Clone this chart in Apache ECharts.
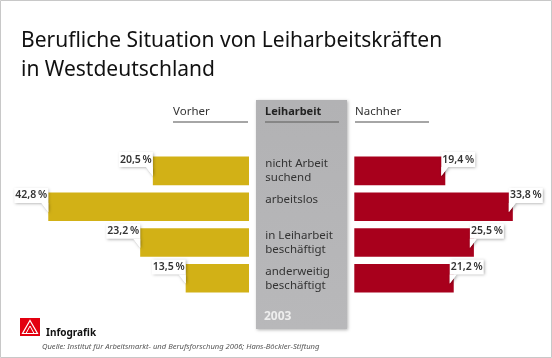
<!DOCTYPE html>
<html><head><meta charset="utf-8">
<script src="https://cdn.jsdelivr.net/npm/echarts@6/dist/echarts.min.js"></script>
<style>html,body{margin:0;padding:0;background:#fff}#c{width:552px;height:358px}</style>
</head><body><div id="c"></div>
<script>
const categories = ["nicht Arbeit\nsuchend", "arbeitslos", "in Leiharbeit\nbeschäftigt", "anderweitig\nbeschäftigt"];
const vorher = [20.5, 42.8, 23.2, 13.5];
const nachher = [19.4, 33.8, 25.5, 21.2];
const yearLabel = "2003";

const FONT = "'Noto Sans', sans-serif";
const fmt = v => v.toFixed(1).replace('.', ',') + '\u2009%';

function calloutItem(side) {
  return function (params, api) {
    const v = api.value(0), idx = api.value(1);
    const p = api.coord([v, idx]);
    const band = api.size([0, 1])[1];
    const top = p[1] - band * 0.4;
    const w = 34, h = 15;
    const bx = side === 'left' ? p[0] - w : p[0] - 4;
    const by = top - 4.5;
    const tail = side === 'left'
      ? [[p[0] - 7, by + h], [p[0], by + h], [p[0], by + h + 9]]
      : [[bx, by + h], [bx + 7, by + h], [bx, by + h + 9]];
    return {
      type: 'group',
      children: [
        { type: 'polygon', shape: { points: tail }, style: { fill: '#fff', shadowBlur: 3, shadowColor: 'rgba(0,0,0,0.35)', shadowOffsetX: 1, shadowOffsetY: 1 } },
        { type: 'rect', shape: { x: bx, y: by, width: w, height: h }, style: { fill: '#fff', shadowBlur: 3, shadowColor: 'rgba(0,0,0,0.35)', shadowOffsetX: 1, shadowOffsetY: 1 } },
        { type: 'polygon', shape: { points: tail }, style: { fill: '#fff' } },
        { type: 'text', x: bx + w / 2, y: by + h / 2, style: { text: fmt(v), fill: '#333', font: "600 10.5px " + FONT, align: 'center', verticalAlign: 'middle' } }
      ]
    };
  };
}

const chart = echarts.init(document.getElementById('c'), null, { renderer: 'canvas' });
chart.setOption({
  animation: false,
  backgroundColor: '#fff',
  title: {
    text: 'Berufliche Situation von Leiharbeitskräften\nin Westdeutschland',
    left: 16, top: 22,
    textStyle: { fontFamily: FONT, fontSize: 21, fontWeight: 'normal', color: '#111', lineHeight: 29 }
  },
  grid: [
    { left: 14.5, width: 234.5, top: 153, height: 143.2 },
    { left: 354.3, width: 187.6, top: 153, height: 143.2 }
  ],
  xAxis: [
    { gridIndex: 0, type: 'value', min: 0, max: 50, inverse: true, show: false },
    { gridIndex: 1, type: 'value', min: 0, max: 40, show: false }
  ],
  yAxis: [
    { gridIndex: 0, type: 'category', data: categories, inverse: true, show: false },
    { gridIndex: 1, type: 'category', data: categories, inverse: true,
      axisLine: { show: false }, axisTick: { show: false }, splitLine: { show: false },
      axisLabel: { align: 'left', margin: 89, fontFamily: FONT, fontSize: 11.5, color: '#333', lineHeight: 14,
        formatter: s => s.indexOf('\n') < 0 ? s + '\n ' : s } }
  ],
  graphic: [
    { type: 'rect', shape: { x: 0.5, y: 0.5, width: 551, height: 357 }, style: { fill: 'none', stroke: '#c8c8c8', lineWidth: 1 }, z: 0 },
    { type: 'rect', shape: { x: 256, y: 100, width: 91, height: 229 },
      style: { fill: new echarts.graphic.LinearGradient(0, 0, 0, 1, [{ offset: 0, color: '#b2b2b4' }, { offset: 1, color: '#b8b8ba' }]),
        shadowBlur: 3, shadowColor: 'rgba(0,0,0,0.3)', shadowOffsetX: 1, shadowOffsetY: 1 }, z: 0 },
    { type: 'text', x: 173, y: 112, style: { text: 'Vorher', font: "11.5px " + FONT, fill: '#333', verticalAlign: 'middle' }, z: 1 },
    { type: 'line', shape: { x1: 173, y1: 122, x2: 248, y2: 122 }, style: { stroke: '#888', lineWidth: 1.5 }, z: 1 },
    { type: 'text', x: 265, y: 112, style: { text: 'Leiharbeit', font: "bold 11px " + FONT, fill: '#222', verticalAlign: 'middle' }, z: 1 },
    { type: 'line', shape: { x1: 265, y1: 122, x2: 339, y2: 122 }, style: { stroke: '#777', lineWidth: 1.5 }, z: 1 },
    { type: 'text', x: 355, y: 112, style: { text: 'Nachher', font: "11.5px " + FONT, fill: '#333', verticalAlign: 'middle' }, z: 1 },
    { type: 'line', shape: { x1: 355, y1: 122, x2: 429, y2: 122 }, style: { stroke: '#888', lineWidth: 1.5 }, z: 1 },
    { type: 'text', x: 264, y: 317, style: { text: yearLabel, font: "bold 12px " + FONT, fill: '#eeeeee', verticalAlign: 'middle' }, z: 1 },
    { type: 'rect', shape: { x: 20, y: 318, width: 20, height: 18 }, style: { fill: '#e3000f' }, z: 1 },
    { type: 'polygon', shape: { points: [[30, 320.5], [37.5, 333.5], [22.5, 333.5]] }, style: { fill: 'none', stroke: '#fff', lineWidth: 1.2 }, z: 2 },
    { type: 'polyline', shape: { points: [[26, 333.5], [30, 326], [34, 333.5]] }, style: { fill: 'none', stroke: '#fff', lineWidth: 1 }, z: 2 },
    { type: 'text', x: 46, y: 333, style: { text: 'Infografik', font: "bold 10px " + FONT, fill: '#111', verticalAlign: 'middle' }, z: 1 },
    { type: 'text', x: 42, y: 347, style: { text: 'Quelle: Institut für Arbeitsmarkt- und Berufsforschung 2006; Hans-Böckler-Stiftung', font: "italic 7.6px " + FONT, fill: '#555', verticalAlign: 'middle' }, z: 1 }
  ],
  series: [
    { type: 'bar', xAxisIndex: 0, yAxisIndex: 0, data: vorher, barWidth: '80%', itemStyle: { color: '#d2b116' }, z: 3 },
    { type: 'bar', xAxisIndex: 1, yAxisIndex: 1, data: nachher, barWidth: '80%', itemStyle: { color: '#a8001c' }, z: 3 },
    { type: 'custom', xAxisIndex: 0, yAxisIndex: 0, data: vorher.map((v, i) => [v, i]), renderItem: calloutItem('left'), clip: false, z: 5 },
    { type: 'custom', xAxisIndex: 1, yAxisIndex: 1, data: nachher.map((v, i) => [v, i]), renderItem: calloutItem('right'), clip: false, z: 5 }
  ]
});
</script>
</body></html>
